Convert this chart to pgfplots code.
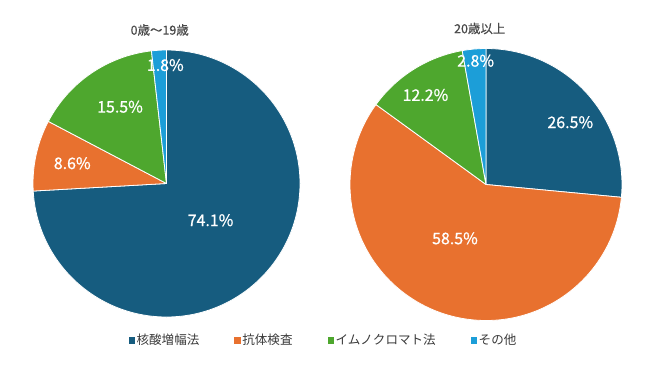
\documentclass[border=0pt]{standalone}
\usepackage{fontspec}
\setmainfont{Noto Sans CJK JP}
\newfontfamily\labfont{Noto Sans CJK JP}[FakeBold=0.8]
\newfontfamily\ttlfont{Noto Sans CJK JP}[FakeBold=0.4]
\usepackage{pgfplots}
\pgfplotsset{compat=1.18}
\definecolor{cN}{HTML}{165C7F}
\definecolor{cA}{HTML}{E8712F}
\definecolor{cI}{HTML}{4EA72E}
\definecolor{cO}{HTML}{1C9ED8}
\definecolor{ttl}{HTML}{4A4A4A}
\definecolor{lgd}{HTML}{3A3A3A}
\xdef\cum{0}
\newcommand\pieslice[3]{% value, colour, radius
  \pgfmathsetmacro\sa{90-3.6*\cum}%
  \pgfmathsetmacro\sb{90-3.6*(\cum+#1)}%
  \edef\temp{\noexpand\fill[#2, draw=white, line width=0.8bp, line join=round] (axis cs:0,0) -- ++(\sa:#3) arc[start angle=\sa, end angle=\sb, radius=#3] -- cycle;}%
  \temp
  \pgfmathsetmacro\newcum{\cum+#1}%
  \global\let\cum\newcum
}
\begin{document}
\begin{tikzpicture}
\useasboundingbox (0bp,0bp) rectangle (650bp,-365bp);
% left pie
\begin{axis}[hide axis, scale only axis, x=133.5bp, y=133.5bp,
  xmin=-1, xmax=1, ymin=-1, ymax=1, clip=false,
  at={(166.5bp,-183.5bp)}, anchor=center,
  legend style={at={(1.088,-0.086)}, anchor=center, draw=none, fill=none,
    font=\fontsize{12.6}{14}\selectfont, text=lgd, legend columns=4,
    /tikz/every even column/.append style={column sep=33bp}},
  legend cell align=left,
  legend image code/.code={\fill[#1] (0bp,-2.8bp) rectangle (5.6bp,2.8bp);},
]
\xdef\cum{0}
\pieslice{74.1}{cN}{133.5bp}
\pieslice{8.6}{cA}{133.5bp}
\pieslice{15.5}{cI}{133.5bp}
\pieslice{1.8}{cO}{133.5bp}
\addlegendimage{cN}\addlegendentry{核酸増幅法}
\addlegendimage{cA}\addlegendentry{抗体検査}
\addlegendimage{cI}\addlegendentry{イムノクロマト法}
\addlegendimage{cO}\addlegendentry{その他}
\begin{scope}[every node/.style={text=white, font=\labfont\fontsize{16}{18}\selectfont}]
\node at (axis cs:0.330,-0.275) {74.1\%};
\node at (axis cs:-0.706,0.152) {8.6\%};
\node at (axis cs:-0.348,0.575) {15.5\%};
\node at (axis cs:-0.009,0.887) {1.8\%};
\end{scope}
\node[text=ttl, font=\ttlfont\fontsize{12.5}{14}\selectfont] at (axis cs:-0.051,1.150) {0歳〜19歳};
\end{axis}
% right pie
\begin{axis}[hide axis, scale only axis, x=136bp, y=136bp,
  xmin=-1, xmax=1, ymin=-1, ymax=1, clip=false,
  at={(486bp,-184.5bp)}, anchor=center]
\xdef\cum{0}
\pieslice{26.5}{cN}{136bp}
\pieslice{58.5}{cA}{136bp}
\pieslice{12.2}{cI}{136bp}
\pieslice{2.8}{cO}{136bp}
\begin{scope}[every node/.style={text=white, font=\labfont\fontsize{16}{18}\selectfont}]
\node at (axis cs:0.620,0.458) {26.5\%};
\node at (axis cs:-0.228,-0.396) {58.5\%};
\node at (axis cs:-0.445,0.658) {12.2\%};
\node at (axis cs:-0.076,0.910) {2.8\%};
\end{scope}
\node[text=ttl, font=\ttlfont\fontsize{12.5}{14}\selectfont] at (axis cs:-0.046,1.147) {20歳以上};
\end{axis}
\end{tikzpicture}
\end{document}
